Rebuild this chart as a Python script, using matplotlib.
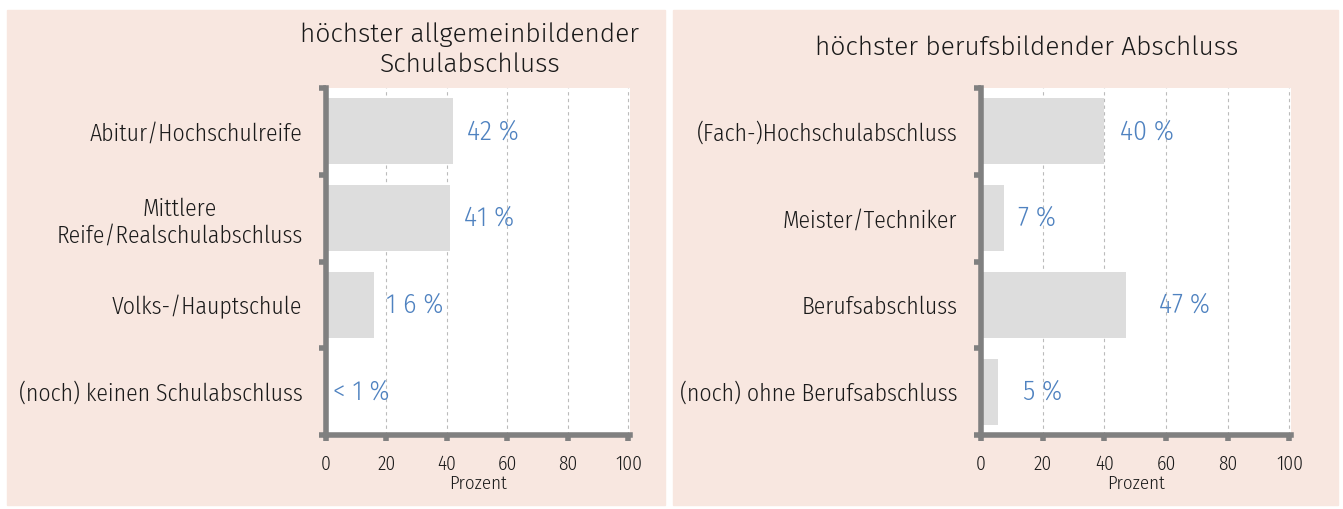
import matplotlib
matplotlib.use("Agg")
import matplotlib.pyplot as plt
from matplotlib import font_manager as fm
from matplotlib.patches import Rectangle

# ---- data ----
left_title = "höchster allgemeinbildender\nSchulabschluss"
left_cats = ["Abitur/Hochschulreife", "Mittlere\nReife/Realschulabschluss",
             "Volks-/Hauptschule", "(noch) keinen Schulabschluss"]
left_vals = [42, 41, 16, 0.5]
left_labels = ["42 %", "41 %", "1 6 %", "< 1 %"]

right_title = "höchster berufsbildender Abschluss"
right_cats = ["(Fach-)Hochschulabschluss", "Meister/Techniker",
              "Berufsabschluss", "(noch) ohne Berufsabschluss"]
right_vals = [40, 7.5, 47, 5.5]
right_labels = ["40 %", "7 %", "47 %", "5 %"]

xticks = [0, 20, 40, 60, 80, 100]
xlabel = "Prozent"

names = {f.name for f in fm.fontManager.ttflist}

def pick(cands):
    for c in cands:
        if c in names:
            return c
    return "DejaVu Sans"

FONT = pick(["Fira Sans Condensed", "Roboto Condensed", "Asap Condensed",
             "Archivo Narrow", "Liberation Sans Narrow", "Roboto"])
TFONT = pick(["Fira Sans", FONT])
plt.rcParams['font.family'] = [FONT, 'DejaVu Sans']
WT = 300

PINK = "#F8E7E0"
GREY = "#808080"
BAR = "#DDDDDD"
BLUE = "#4F82C0"
TXT = "#1a1a1a"

fig = plt.figure(figsize=(13.43, 5.09), dpi=100)
W, H = 1343, 509

def px(x0, y0, x1, y1):
    return [x0 / W, 1 - y1 / H, (x1 - x0) / W, (y1 - y0) / H]

for x0, x1 in [(7, 665), (673, 1338)]:
    fig.add_artist(Rectangle((x0 / W, 1 - 505 / H), (x1 - x0) / W, (505 - 10) / H,
                             transform=fig.transFigure, color=PINK, zorder=-5))

def panel(rect, cats, vals, labels, offsets):
    ax = fig.add_axes(rect)
    ax.set_facecolor("white")
    y = list(range(len(cats)))
    ax.barh(y, vals, height=0.76, color=BAR, zorder=2)
    ax.set_xlim(0, 100.5)
    ax.set_ylim(len(cats) - 0.5, -0.5)
    ax.set_yticks(y)
    ax.set_yticklabels(cats, fontsize=17, color=TXT, multialignment='center',
                       fontweight=WT)
    ax.set_yticks([i - 0.5 for i in range(len(cats) + 1)], minor=True)
    ax.tick_params(axis='y', which='major', length=0, pad=17)
    ax.tick_params(axis='y', which='minor', length=5, width=4, color=GREY)
    ax.set_xticks(xticks)
    ax.set_xticklabels([str(t) for t in xticks], fontweight=WT)
    ax.tick_params(axis='x', length=4, width=4, color=GREY, labelsize=14,
                   labelcolor=TXT, pad=10)
    ax.set_xlabel(xlabel, fontsize=13.5, color=TXT, labelpad=1, fontweight=WT)
    for s in ['top', 'right']:
        ax.spines[s].set_visible(False)
    for s in ['left', 'bottom']:
        ax.spines[s].set_color(GREY)
        ax.spines[s].set_linewidth(4)
    ax.grid(axis='x', color='#BBBBBB', linestyle=(0, (3, 3)), linewidth=0.8, zorder=1)
    ax.set_axisbelow(True)
    for yi, v, lab, off in zip(y, vals, labels, offsets):
        ax.annotate(lab, (v, yi), xytext=(off, 0), textcoords='offset points',
                    ha='left', va='center', color=BLUE, fontsize=20,
                    fontweight=WT, zorder=3)
    return ax

axl = panel(px(326, 88, 630, 435), left_cats, left_vals, left_labels, [10, 10, 8, 4])
axr = panel(px(981, 88, 1291, 435), right_cats, right_vals, right_labels, [11, 10, 24, 18])

fig.text(470 / W, 1 - 72 / H, left_title, ha='center', va='baseline', fontsize=19,
         color=TXT, linespacing=1.25, fontweight=WT, family=[TFONT, 'DejaVu Sans'])
fig.text(1027 / W, 1 - 55 / H, right_title, ha='center', va='baseline', fontsize=19,
         color=TXT, fontweight=WT, family=[TFONT, 'DejaVu Sans'])

fig.savefig("out.png", dpi=100, facecolor="white")
